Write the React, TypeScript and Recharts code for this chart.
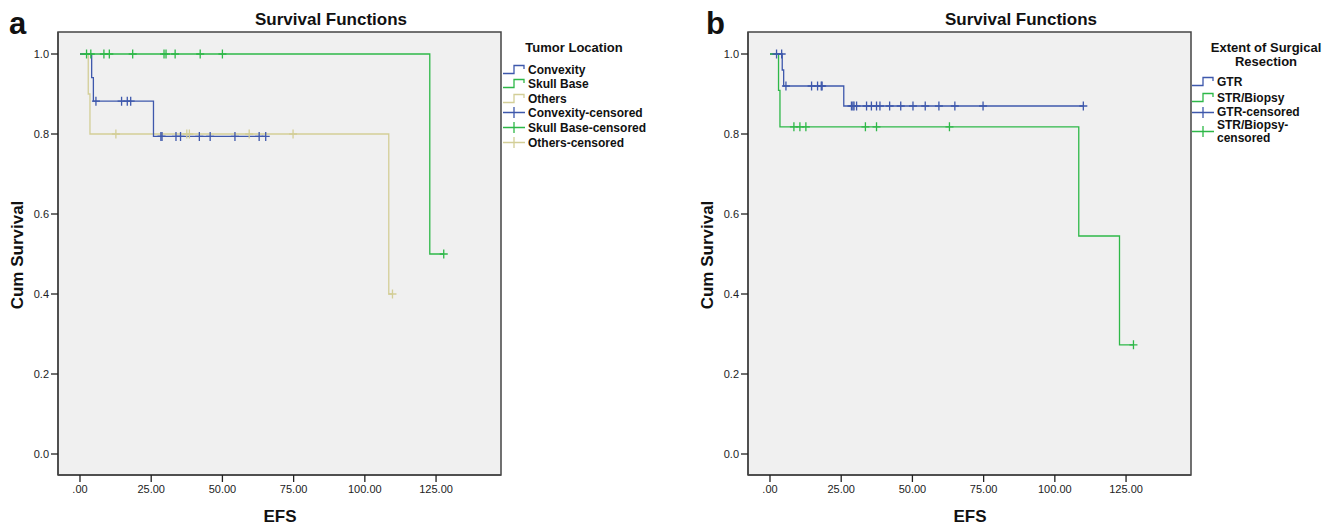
import React from "react";
import {
  ComposedChart,
  Line,
  Scatter,
  XAxis,
  YAxis,
  CartesianGrid,
  ReferenceArea,
} from "recharts";

// ---------- shared axis values ----------
const xTicks = [0, 25, 50, 75, 100, 125];
const yTicks = [0, 0.2, 0.4, 0.6, 0.8, 1.0];
const xDomain = [-7.72, 147.8];
const yDomain = [-0.0525, 1.055];

// ---------- panel a: Tumor Location ----------
const convexityT = [0, 4.1, 4.7, 25.8, 65.2];
const convexityS = [1, 0.941, 0.882, 0.794, 0.794];
const convexityCensT = [5.6, 14.6, 16.6, 17.8, 28.4, 28.8, 33.7, 35.3, 41.9, 45.7, 54.4, 62.9, 65.2];
const convexityCensS = [0.882, 0.882, 0.882, 0.882, 0.794, 0.794, 0.794, 0.794, 0.794, 0.794, 0.794, 0.794, 0.794];

const skullT = [0, 122.8, 127.7];
const skullS = [1, 0.5, 0.5];
const skullCensT = [2.3, 3.8, 8.4, 10.3, 18.5, 29.5, 30.2, 33.4, 42.2, 50.0, 127.7];
const skullCensS = [1, 1, 1, 1, 1, 1, 1, 1, 1, 1, 0.5];

const othersT = [0, 2.9, 3.5, 108.4, 109.7];
const othersS = [1, 0.9, 0.8, 0.4, 0.4];
const othersCensT = [12.6, 37.5, 38.4, 59.4, 74.8, 109.7];
const othersCensS = [0.8, 0.8, 0.8, 0.8, 0.8, 0.4];

// ---------- panel b: Extent of Surgical Resection ----------
const gtrT = [0, 4.3, 4.8, 25.9, 110.0];
const gtrS = [1, 0.96, 0.92, 0.87, 0.87];
const gtrCensT = [2.3, 4.1, 5.6, 14.6, 16.7, 18.0, 18.3, 28.6, 29.1, 29.5, 30.4, 33.9, 35.6, 37.4, 38.6, 42.0, 45.9, 50.2, 54.5, 59.3, 64.9, 74.8, 110.0];
const gtrCensS = [1, 1, 0.92, 0.92, 0.92, 0.92, 0.92, 0.87, 0.87, 0.87, 0.87, 0.87, 0.87, 0.87, 0.87, 0.87, 0.87, 0.87, 0.87, 0.87, 0.87, 0.87, 0.87];

const strT = [0, 3.0, 3.5, 108.4, 122.7, 127.6];
const strS = [1, 0.909, 0.818, 0.545, 0.273, 0.273];
const strCensT = [8.4, 10.5, 12.6, 33.5, 37.4, 63.0, 127.6];
const strCensS = [0.818, 0.818, 0.818, 0.818, 0.818, 0.818, 0.273];

// ---------- colours ----------
const BLUE = "#3E58AC";
const GREEN = "#2EB848";
const TAN = "#D3CE97";
const FONT = "'Liberation Sans', Arial, Helvetica, sans-serif";

const toPts = (t: number[], s: number[]) => t.map((x, i) => ({ t: x, s: s[i] }));

const plusShape = (color: string) => (props: any) => {
  const { cx, cy } = props;
  if (cx == null || cy == null) return <g />;
  return (
    <path
      d={`M${cx - 4},${cy}H${cx + 4}M${cx},${cy - 4.5}V${cy + 4.5}`}
      stroke={color}
      strokeWidth={1.3}
      fill="none"
    />
  );
};

type Series = { name: string; t: number[]; s: number[]; ct: number[]; cs: number[]; color: string };

const fmtX = (v: number) => (v === 0 ? ".00" : v.toFixed(2));
const fmtY = (v: number) => v.toFixed(1);

function KMChart({ series }: { series: Series[] }) {
  return (
    <ComposedChart
      width={510}
      height={524}
      margin={{ top: 32, right: 9, left: 0, bottom: 19 }}
    >
      <CartesianGrid horizontal={false} vertical={false} fill="#F0F0F0" stroke="none" />
      <XAxis
        dataKey="t"
        type="number"
        domain={xDomain}
        ticks={xTicks}
        allowDataOverflow
        tickFormatter={fmtX}
        height={30}
        tickSize={7}
        tickMargin={3}
        axisLine={{ stroke: "#444", strokeWidth: 1.5 }}
        tickLine={{ stroke: "#222", strokeWidth: 1.3 }}
        tick={{ fontSize: 11, fill: "#222", fontFamily: FONT }}
      />
      <YAxis
        dataKey="s"
        type="number"
        domain={yDomain}
        ticks={yTicks}
        allowDataOverflow
        tickFormatter={fmtY}
        width={58}
        tickSize={7}
        tickMargin={2}
        axisLine={{ stroke: "#444", strokeWidth: 1.5 }}
        tickLine={{ stroke: "#222", strokeWidth: 1.3 }}
        tick={{ fontSize: 11, fill: "#222", fontFamily: FONT }}
      />
      <ReferenceArea
        x1={xDomain[0]}
        x2={xDomain[1]}
        y1={yDomain[0]}
        y2={yDomain[1]}
        fill="none"
        fillOpacity={0}
        stroke="#444"
        strokeWidth={1.5}
      />
      {series.map((se) => (
        <Line
          key={se.name}
          data={toPts(se.t, se.s)}
          dataKey="s"
          type="stepAfter"
          stroke={se.color}
          strokeWidth={1.3}
          dot={false}
          activeDot={false}
          isAnimationActive={false}
        />
      ))}
      {series.map((se) => (
        <Scatter
          key={se.name + "-c"}
          data={toPts(se.ct, se.cs)}
          dataKey="s"
          shape={plusShape(se.color)}
          isAnimationActive={false}
        />
      ))}
    </ComposedChart>
  );
}

const seriesA: Series[] = [
  { name: "Others", t: othersT, s: othersS, ct: othersCensT, cs: othersCensS, color: TAN },
  { name: "Convexity", t: convexityT, s: convexityS, ct: convexityCensT, cs: convexityCensS, color: BLUE },
  { name: "Skull Base", t: skullT, s: skullS, ct: skullCensT, cs: skullCensS, color: GREEN },
];
const seriesB: Series[] = [
  { name: "GTR", t: gtrT, s: gtrS, ct: gtrCensT, cs: gtrCensS, color: BLUE },
  { name: "STR/Biopsy", t: strT, s: strS, ct: strCensT, cs: strCensS, color: GREEN },
];

const StepIcon = ({ color }: { color: string }) => (
  <svg width={22} height={11} style={{ display: "block" }}>
    <path d="M0,9.5H11V1.5H21V5" stroke={color} strokeWidth={1.3} fill="none" />
  </svg>
);
const PlusIcon = ({ color }: { color: string }) => (
  <svg width={22} height={11} style={{ display: "block" }}>
    <path d="M0,5.5H22M11,0V11" stroke={color} strokeWidth={1.3} fill="none" />
  </svg>
);

type LegItem = { label: string[]; color: string; kind: "step" | "plus"; y: number };

const legendA: LegItem[] = [
  { label: ["Convexity"], color: BLUE, kind: "step", y: 70 },
  { label: ["Skull Base"], color: GREEN, kind: "step", y: 84 },
  { label: ["Others"], color: TAN, kind: "step", y: 99 },
  { label: ["Convexity-censored"], color: BLUE, kind: "plus", y: 113 },
  { label: ["Skull Base-censored"], color: GREEN, kind: "plus", y: 128 },
  { label: ["Others-censored"], color: TAN, kind: "plus", y: 143 },
];
const legendB: LegItem[] = [
  { label: ["GTR"], color: BLUE, kind: "step", y: 82 },
  { label: ["STR/Biopsy"], color: GREEN, kind: "step", y: 98 },
  { label: ["GTR-censored"], color: BLUE, kind: "plus", y: 112.5 },
  { label: ["STR/Biopsy-", "censored"], color: GREEN, kind: "plus", y: 132 },
];

function Legend({ items, iconX }: { items: LegItem[]; iconX: number }) {
  return (
    <>
      {items.map((it) => (
        <div key={it.label.join("")}>
          <div style={{ position: "absolute", left: iconX, top: it.y - 6 }}>
            {it.kind === "step" ? <StepIcon color={it.color} /> : <PlusIcon color={it.color} />}
          </div>
          <div
            style={{
              position: "absolute",
              left: iconX + 25,
              top: it.y - (it.label.length * 13) / 2,
              fontFamily: FONT,
              fontWeight: "bold",
              fontSize: 12,
              lineHeight: "12.5px",
              color: "#111",
              whiteSpace: "nowrap",
            }}
          >
            {it.label.map((l) => (
              <div key={l}>{l}</div>
            ))}
          </div>
        </div>
      ))}
    </>
  );
}

const textAbs = (
  left: number,
  top: number,
  size: number,
  extra: React.CSSProperties = {}
): React.CSSProperties => ({
  position: "absolute",
  left,
  top,
  fontFamily: FONT,
  fontWeight: "bold",
  fontSize: size,
  color: "#111",
  whiteSpace: "nowrap",
  lineHeight: 1,
  ...extra,
});

export default function App() {
  return (
    <div
      style={{
        position: "absolute",
        left: 0,
        top: 0,
        width: 1339,
        height: 524,
        background: "#fff",
        overflow: "hidden",
      }}
    >
      {/* panel a */}
      <div style={{ position: "absolute", left: 0, top: 0 }}>
        <KMChart series={seriesA} />
      </div>
      <div style={textAbs(9, 8, 31)}>a</div>
      <div style={textAbs(331, 19, 17, { transform: "translate(-50%,-50%)" })}>Survival Functions</div>
      <div style={textAbs(17, 255, 17, { transform: "translate(-50%,-50%) rotate(-90deg)" })}>Cum Survival</div>
      <div style={textAbs(280, 516, 17, { transform: "translate(-50%,-50%)" })}>EFS</div>
      <div style={textAbs(574, 47, 13, { transform: "translate(-50%,-50%)" })}>Tumor Location</div>
      <Legend items={legendA} iconX={503} />

      {/* panel b */}
      <div style={{ position: "absolute", left: 690, top: 0 }}>
        <KMChart series={seriesB} />
      </div>
      <div style={textAbs(706, 8, 31)}>b</div>
      <div style={textAbs(1021, 19, 17, { transform: "translate(-50%,-50%)" })}>Survival Functions</div>
      <div style={textAbs(707, 255, 17, { transform: "translate(-50%,-50%) rotate(-90deg)" })}>Cum Survival</div>
      <div style={textAbs(970, 516, 17, { transform: "translate(-50%,-50%)" })}>EFS</div>
      <div
        style={textAbs(1266, 55, 13, {
          transform: "translate(-50%,-50%)",
          textAlign: "center",
          lineHeight: "14px",
        })}
      >
        Extent of Surgical
        <br />
        Resection
      </div>
      <Legend items={legendB} iconX={1192} />
    </div>
  );
}
